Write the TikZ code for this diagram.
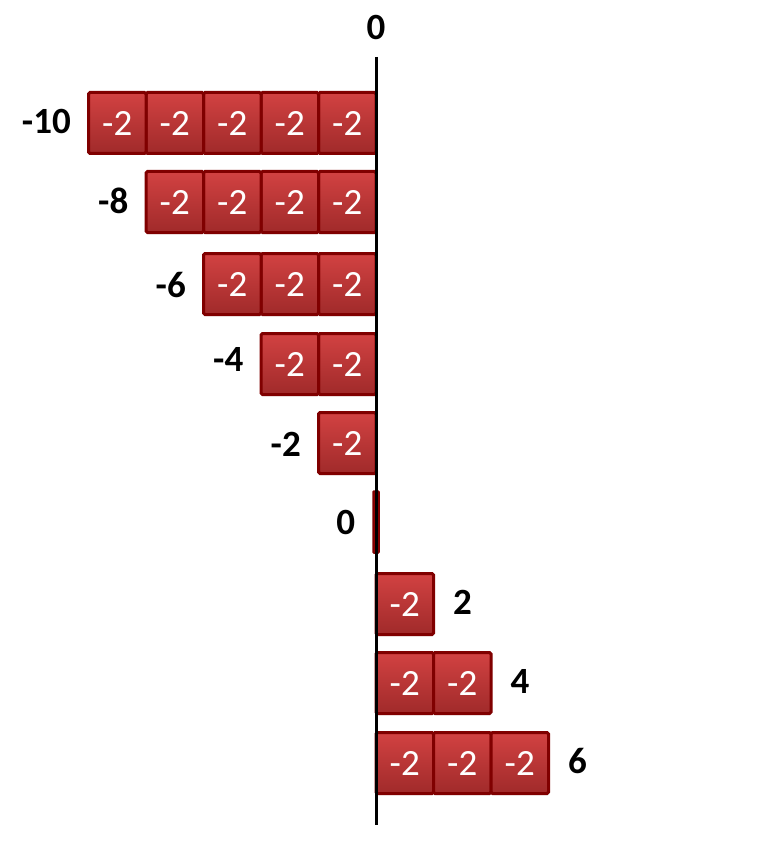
\documentclass[tikz,border=0pt]{standalone}
\usepackage{fontspec}
\setmainfont{Carlito}
\usetikzlibrary{shadows}
\definecolor{boxtop}{HTML}{D24242}
\definecolor{boxbot}{HTML}{A02A2A}
\definecolor{boxedge}{HTML}{800000}
\newcommand\boxtxt{\raisebox{-4pt}{-2}}
\begin{document}
\begin{tikzpicture}[x=1pt,y=-1pt,
  redbox/.style={draw=boxedge, line width=3pt, top color=boxtop, bottom color=boxbot,
    minimum width=57.5pt, minimum height=61pt, inner sep=0pt, rounded corners=1.5pt,
    text=white, font=\fontsize{37}{37}\selectfont,
    drop shadow={opacity=0.25, shadow xshift=1pt, shadow yshift=-1.5pt}},
  numlabel/.style={font=\bfseries\fontsize{37}{37}\selectfont, text=black, inner sep=0pt}]
\useasboundingbox (0,0) rectangle (772,845);
% negative rows
\foreach \r/\n/\y/\lab/\ly in {1/5/123/-10/121, 2/4/202/-8/201, 3/3/284/-6/285, 4/2/364/-4/359, 5/1/443/-2/444} {
  \foreach \i in {1,...,\n}
    \node[redbox] (b\r-\i) at ({376-57.5*(\i-0.5)}, \y) {\boxtxt};
  \path (b\r-\n.west) ++(-16,0) coordinate (la\r);
  \node[numlabel, anchor=east] (l\r) at (la\r |- 0,\ly) {\lab};
}
% zero row
\node[draw=boxedge, line width=1.5pt, fill=boxedge!85!red, minimum width=6pt, minimum height=62pt,
  rounded corners=1pt, inner sep=0pt] (z) at (376,522) {};
\node[numlabel, anchor=east] (l6) at ([xshift=-17pt]z.west) {0};
% positive rows
\foreach \r/\n/\y/\lab in {7/1/604/2, 8/2/683/4, 9/3/763/6} {
  \foreach \i in {1,...,\n}
    \node[redbox] (b\r-\i) at ({376+57.5*(\i-0.5)}, \y) {\boxtxt};
  \node[numlabel, anchor=west] (l\r) at ([xshift=18pt, yshift=2pt]b\r-\n.east) {\lab};
}
% axis
\coordinate (top) at (376,57);
\coordinate (bot) at (376,825);
\draw[line width=3pt] (top) -- (bot);
\node[numlabel] (t0) at (376,27) {0};
\end{tikzpicture}
\end{document}
